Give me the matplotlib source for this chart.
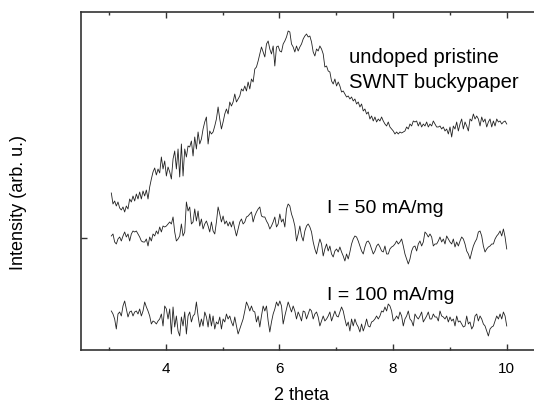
import numpy as np
import matplotlib
matplotlib.use('Agg')
from matplotlib import pyplot as plt
from matplotlib.ticker import MultipleLocator

plt.rcParams['font.family'] = ['Liberation Sans', 'DejaVu Sans']

# 2 theta grid (degrees), evenly sampled scan
two_theta = np.linspace(3.04, 10.0, 238)

# intensity readings (arb. u.), offset per curve as in the figure
pristine = [
    157, 146, 149, 144, 148, 142, 140, 143, 138, 144, 141, 151, 148, 154, 149, 156, 151, 158, 151, 159,
    154, 160, 151, 163, 171, 178, 182, 175, 181, 177, 193, 181, 189, 174, 183, 178, 171, 191, 199, 181,
    201, 173, 206, 174, 201, 193, 204, 203, 209, 194, 213, 201, 218, 206, 211, 221, 228, 233, 206, 219,
    216, 218, 224, 231, 243, 231, 221, 228, 236, 241, 236, 248, 244, 248, 256,
    248, 251, 254, 261, 259, 264, 259, 268, 261, 271, 268, 281, 283, 289, 296, 303, 298, 293, 306, 309,
    301, 296, 304, 284, 303, 304, 299, 298, 306, 309, 313, 319, 318, 306, 303, 298, 304, 299, 303,
    306, 311, 314, 316, 313, 314, 308, 298, 294, 301, 299, 304, 301, 296, 283, 284, 279, 278, 269, 266,
    271, 264, 268, 264, 258, 259, 256, 253, 254, 251, 253, 249, 251, 246, 248, 243, 246, 239, 241, 236,
    238, 231, 234, 229, 233, 228, 231, 229, 233, 229, 226, 224, 228, 223, 221, 219, 216, 218, 216, 218,
    217, 218, 219, 223, 221, 226, 224, 229, 228, 229, 224, 228, 223, 226, 224, 228, 223, 226, 224, 229,
    226, 223, 223, 224, 221, 223, 219, 221, 216, 223, 213, 224, 221, 228, 219, 226, 231, 221, 228, 224,
    219, 231, 229, 236, 231, 234, 231, 224, 233, 228, 231, 223, 228, 231, 223, 229, 224, 231, 228, 229,
    226, 228, 229, 226,
]

i50 = [
    114, 116, 108, 106, 111, 113, 109, 114, 118, 113, 116, 109, 116, 119, 118, 119, 116, 113, 109, 108,
    108, 111, 104, 113, 109, 116, 114, 119, 116, 123, 118, 124, 123, 124, 126, 128, 126, 133, 118, 109,
    111, 114, 126, 114, 118, 148, 139, 143, 126, 128, 141, 129, 139, 124, 131, 121, 126, 129, 124, 118,
    128, 119, 116, 128, 143, 136, 128, 134, 126, 129, 124, 128, 123, 129, 121, 114, 121, 128, 131, 126,
    128, 133, 134, 136, 138, 128, 134, 138, 141, 143, 134, 133, 133, 129, 126, 121, 124, 128, 133, 123,
    126, 136, 128, 131, 123, 141, 146, 144, 136, 131, 124, 109, 116, 124, 114, 109, 119, 124, 126, 123,
    118, 108, 101, 96, 104, 111, 106, 94, 101, 106, 99, 104, 96, 93, 99, 101, 98, 103, 98, 94,
    89, 96, 91, 98, 106, 111, 114, 113, 109, 104, 99, 96, 103, 108, 109, 106, 101, 96, 99, 104,
    106, 103, 99, 98, 104, 96, 96, 101, 103, 104, 106, 109, 106, 108, 111, 104, 96, 91, 86, 91,
    99, 103, 104, 99, 106, 109, 104, 108, 118, 116, 113, 116, 113, 104, 106, 106, 109, 113, 108, 111,
    106, 114, 111, 108, 106, 111, 103, 108, 104, 109, 113, 111, 106, 99, 96, 91, 98, 104, 108, 111,
    118, 119, 114, 104, 98, 101, 103, 104, 106, 106, 111, 114, 116, 119, 114, 121, 113, 101,
]

i100 = [
    39, 36, 31, 21, 36, 38, 34, 44, 49, 41, 33, 38, 39, 34, 38, 39, 36, 41, 34, 39,
    48, 43, 39, 34, 26, 29, 28, 26, 29, 31, 36, 24, 44, 41, 31, 41, 16, 43, 23, 34,
    19, 14, 33, 24, 38, 16, 34, 38, 28, 34, 36, 48, 34, 23, 31, 24, 38, 33, 23, 36,
    24, 34, 21, 28, 26, 33, 21, 31, 28, 36, 31, 34, 28, 24, 33, 24, 16, 21, 26, 31,
    39, 48, 44, 39, 44, 39, 38, 28, 34, 23, 34, 44, 39, 44, 29, 18, 28, 36, 41, 48,
    44, 49, 44, 26, 34, 41, 48, 43, 38, 44, 39, 31, 38, 34,
    29, 39, 38, 31, 36, 41, 39, 31, 36, 38, 33, 24, 29, 34, 29, 31, 34, 38, 29, 34,
    39, 34, 33, 38, 43, 39, 31, 24, 28, 19, 31, 24, 31, 26, 23, 18, 26, 19, 24, 31,
    24, 23, 28, 29, 31, 34, 31, 34, 39, 38, 43, 39, 46, 44, 39, 29, 31, 34, 31, 38,
    34, 24, 31, 34, 39, 31, 29, 24, 36, 33, 31, 34, 38, 28, 31, 34, 38, 31, 31, 36,
    33, 33, 29, 39, 34, 33, 31, 34, 28, 33, 29, 31, 24, 34, 28, 29, 26, 23, 24, 34,
    26, 28, 21, 24, 34, 36, 29, 34, 31, 26, 24, 19, 14, 21, 23, 24, 29, 34, 31, 36,
    31, 38, 34, 24,
]

labels = ['undoped pristine', 'SWNT buckypaper', 'I = 50 mA/mg', 'I = 100 mA/mg']
label_pos = [(7.22, 288), (7.22, 263), (6.83, 138), (6.83, 51)]
label_size = [14.6, 14.6, 14, 14]

fig = plt.figure(figsize=(5.34, 4.06), dpi=100)
ax = fig.add_axes([0.151, 0.1355, 0.849, 0.8325])

for y in (pristine, i50, i100):
    ax.plot(two_theta, y, color='#222222', lw=0.6)

for txt, (x, y), fs in zip(labels, label_pos, label_size):
    ax.text(x, y, txt, fontsize=fs, va='baseline', ha='left')

ax.set_xlim(2.5, 10.48)
ax.set_ylim(0, 338)
ax.xaxis.set_major_locator(MultipleLocator(2))
ax.xaxis.set_minor_locator(MultipleLocator(1))
ax.set_yticks([112])
ax.set_yticklabels([])
ax.tick_params(axis='x', which='both', direction='in', top=True, labelsize=11, pad=8, colors='#333333',
               labelcolor='black')
ax.tick_params(axis='x', which='major', length=4.5, width=1)
ax.tick_params(axis='x', which='minor', length=2.5, width=1)
ax.tick_params(axis='y', direction='in', length=4.5, width=1, colors='#333333')
ax.spines['right'].set_visible(False)
for s in ('left', 'bottom', 'top'):
    ax.spines[s].set_linewidth(1.2)
    ax.spines[s].set_color('#333333')

fig.text(0.565, 0.005, '2 theta', fontsize=13, ha='center', va='bottom')
fig.text(0.034, 0.5, 'Intensity (arb. u.)', fontsize=13, rotation=90, ha='center', va='center')

plt.savefig('out.png', dpi=100)
